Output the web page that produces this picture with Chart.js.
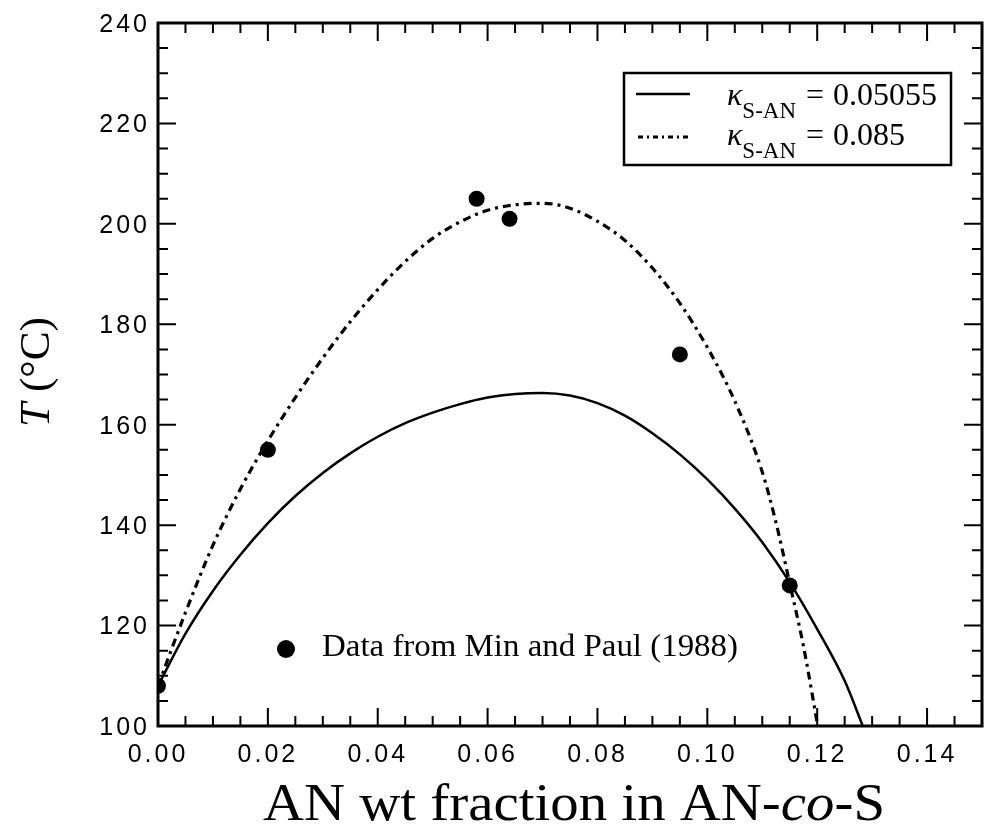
<!DOCTYPE html>
<html>
<head>
<meta charset="utf-8">
<script src="https://cdn.jsdelivr.net/npm/chart.js@4/dist/chart.umd.min.js"></script>
<style>
    html, body { margin: 0; padding: 0; background: #fff; }
    #wrap { width: 990px; height: 831px; }
</style>
</head>
<body>
<div id="wrap"><canvas id="grafica"></canvas></div>
<script>
// Measured cloud points (Min and Paul, 1988).
var dataFrac = [0.000, 0.020, 0.058, 0.064, 0.095, 0.115];
var dataTemp = [108, 155, 205, 201, 174, 128];

// Model curve, kappa = 0.05055 (solid).
var solidFrac = [0, 0.005, 0.01, 0.015, 0.02, 0.025, 0.03, 0.035, 0.04, 0.045,
    0.05, 0.055, 0.06, 0.065, 0.07, 0.075, 0.08, 0.085, 0.09, 0.095, 0.1,
    0.105, 0.11, 0.115, 0.12, 0.125, 0.1283];
var solidTemp = [108, 118.4, 126.9, 134.1, 140.4, 145.8, 150.4, 154.3, 157.6, 160.3,
    162.4, 164.1, 165.4, 166.1, 166.3, 165.8, 164.3, 161.8, 158.3, 154.1, 149.1,
    143.3, 136.6, 128.6, 119.3, 109.0, 100];

// Model curve, kappa = 0.085 (dash-dot).
var dashFrac = [0, 0.005, 0.01, 0.015, 0.02, 0.025, 0.03, 0.035, 0.04, 0.045,
    0.05, 0.055, 0.06, 0.065, 0.07, 0.075, 0.08, 0.085, 0.09, 0.095, 0.1,
    0.105, 0.11, 0.1125, 0.115, 0.1175, 0.1201];
var dashTemp = [108, 122.6, 136.0, 147.2, 156.8, 165.4, 173.3, 180.5, 186.9, 192.5,
    197.1, 200.4, 202.7, 203.8, 204.1, 203.1, 200.5, 196.7, 191.2, 184.2, 175.4,
    164.7, 150.6, 140.5, 128.4, 115.9, 100];

var xTicks = [0, 0.02, 0.04, 0.06, 0.08, 0.10, 0.12, 0.14];
var yTicks = [100, 120, 140, 160, 180, 200, 220, 240];
var kappaValues = ['0.05055', '0.085'];
var dataLabel = 'Data from Min and Paul (1988)';

var serif = '"Liberation Serif", "Times New Roman", serif';
var dashDot = [8, 5, 3, 5];

// Joins two arrays into {x, y} points.
function pairs(xs, ys) {
    var out = [];
    for (var i = 0; i < xs.length; i++) {
        out.push({ x: xs[i], y: ys[i] });
    }
    return out;
}

// Width of a run of text pieces, each with its own font.
function runWidth(ctx, pieces) {
    var w = 0;
    for (var i = 0; i < pieces.length; i++) {
        ctx.font = pieces[i].font;
        w += ctx.measureText(pieces[i].text).width;
    }
    return w;
}

// Draws a run of text pieces from x on baseline y.
function drawRun(ctx, pieces, x, y) {
    for (var i = 0; i < pieces.length; i++) {
        ctx.font = pieces[i].font;
        ctx.fillText(pieces[i].text, x, y + (pieces[i].dy || 0));
        x += ctx.measureText(pieces[i].text).width;
    }
}

// Draws a run stretched to a given width.
function drawFit(ctx, pieces, x, y, width) {
    var sx = width / runWidth(ctx, pieces);
    ctx.save();
    ctx.translate(x, y);
    ctx.scale(sx, 1);
    drawRun(ctx, pieces, 0, 0);
    ctx.restore();
}

// Frame, inward ticks on all four sides, legend box, note and axis titles.
var framePlugin = {
    id: 'frame',
    beforeDraw: function (chart) {
        chart.ctx.letterSpacing = '3px';
    },
    afterDraw: function (chart) {
        var ctx = chart.ctx;
        var a = chart.chartArea;
        var sx = chart.scales.x;
        var sy = chart.scales.y;
        var i, p, len;

        ctx.save();
        ctx.letterSpacing = '0px';
        ctx.strokeStyle = '#000';
        ctx.fillStyle = '#000';
        ctx.lineWidth = 3;
        ctx.strokeRect(a.left, a.top, a.right - a.left, a.bottom - a.top);

        ctx.lineWidth = 2;
        ctx.beginPath();
        for (i = 0; i <= 30; i++) {
            p = sx.getPixelForValue(i * 0.005);
            len = (i % 4 === 0) ? 18 : 10;
            ctx.moveTo(p, a.bottom); ctx.lineTo(p, a.bottom - len);
            ctx.moveTo(p, a.top); ctx.lineTo(p, a.top + len);
        }
        for (i = 0; i <= 28; i++) {
            p = sy.getPixelForValue(100 + i * 5);
            len = (i % 4 === 0) ? 18 : 10;
            ctx.moveTo(a.left, p); ctx.lineTo(a.left + len, p);
            ctx.moveTo(a.right, p); ctx.lineTo(a.right - len, p);
        }
        ctx.stroke();

        // legend box
        var bx = a.left + 466, by = a.top + 50;
        ctx.lineWidth = 2.5;
        ctx.strokeRect(bx, by, 327, 92);
        ctx.beginPath();
        ctx.moveTo(bx + 12, by + 21); ctx.lineTo(bx + 66, by + 21);
        ctx.stroke();
        ctx.setLineDash([5, 4, 2, 4]);
        ctx.lineWidth = 3;
        ctx.beginPath();
        ctx.moveTo(bx + 14, by + 64); ctx.lineTo(bx + 64, by + 64);
        ctx.stroke();
        ctx.setLineDash([]);
        for (i = 0; i < kappaValues.length; i++) {
            var base = by + 32 + i * 40;
            drawRun(ctx, [
                { text: '\u03ba', font: 'italic 32px ' + serif },
                { text: 'S-AN', font: '23px ' + serif, dy: 13 }
            ], bx + 103, base);
            ctx.font = '32px ' + serif;
            ctx.fillText('=', bx + 182, base);
            ctx.fillText(kappaValues[i], bx + 209, base);
        }

        // data note
        ctx.beginPath();
        ctx.arc(a.left + 128, a.top + 626, 9, 0, Math.PI * 2);
        ctx.fill();
        drawFit(ctx, [{ text: dataLabel, font: '32px ' + serif }],
            a.left + 164, a.top + 633, 416);

        // x title
        var xt = [
            { text: 'AN wt fraction in AN-', font: '52px ' + serif },
            { text: 'co', font: 'italic 52px ' + serif },
            { text: '-S', font: '52px ' + serif }
        ];
        drawFit(ctx, xt, 263, 820, 622);

        // y title
        var yt = [
            { text: 'T', font: 'italic 42px ' + serif },
            { text: ' (\u00b0C)', font: '42px ' + serif }
        ];
        ctx.save();
        ctx.translate(49, 372);
        ctx.rotate(-Math.PI / 2);
        drawFit(ctx, yt, -55, 0, 110);
        ctx.restore();

        ctx.restore();
    }
};

var ctx = document.getElementById('grafica').getContext('2d');
var tickFont = { family: '"Liberation Sans", Arial, sans-serif', size: 25 };

var chart = new Chart(ctx, {
    type: 'scatter',
    data: {
        datasets: [{
            label: 'Data from Min and Paul (1988)',
            data: pairs(dataFrac, dataTemp),
            showLine: false,
            pointRadius: 8,
            pointBorderWidth: 0,
            pointBackgroundColor: '#000'
        }, {
            label: 'kappa 0.05055',
            data: pairs(solidFrac, solidTemp),
            showLine: true,
            borderColor: '#000',
            borderWidth: 2.5,
            pointRadius: 0,
            cubicInterpolationMode: 'monotone'
        }, {
            label: 'kappa 0.085',
            data: pairs(dashFrac, dashTemp),
            showLine: true,
            borderColor: '#000',
            borderWidth: 3.2,
            borderDash: dashDot,
            pointRadius: 0,
            cubicInterpolationMode: 'monotone'
        }]
    },
    options: {
        responsive: true,
        maintainAspectRatio: false,
        animation: false,
        layout: { padding: { top: 21, right: 2, left: 0, bottom: 0 } },
        plugins: {
            legend: { display: false },
            tooltip: { enabled: false }
        },
        scales: {
            x: {
                type: 'linear',
                min: 0,
                max: 0.15,
                grid: { display: false, drawTicks: false },
                border: { display: false },
                afterBuildTicks: function (s) {
                    s.ticks = xTicks.map(function (v) { return { value: v }; });
                },
                afterFit: function (s) { s.height = 105; },
                ticks: {
                    padding: 14,
                    color: '#000',
                    font: tickFont,
                    autoSkip: false,
                    maxRotation: 0,
                    callback: function (v) { return v.toFixed(2); }
                }
            },
            y: {
                type: 'linear',
                min: 100,
                max: 240,
                grid: { display: false, drawTicks: false },
                border: { display: false },
                afterBuildTicks: function (s) {
                    s.ticks = yTicks.map(function (v) { return { value: v }; });
                },
                afterFit: function (s) { s.width = 158; },
                ticks: {
                    padding: 8,
                    color: '#000',
                    font: tickFont,
                    autoSkip: false,
                    labelOffset: 2,
                    callback: function (v) { return String(v); }
                }
            }
        }
    },
    plugins: [framePlugin]
});
</script>
</body>
</html>
